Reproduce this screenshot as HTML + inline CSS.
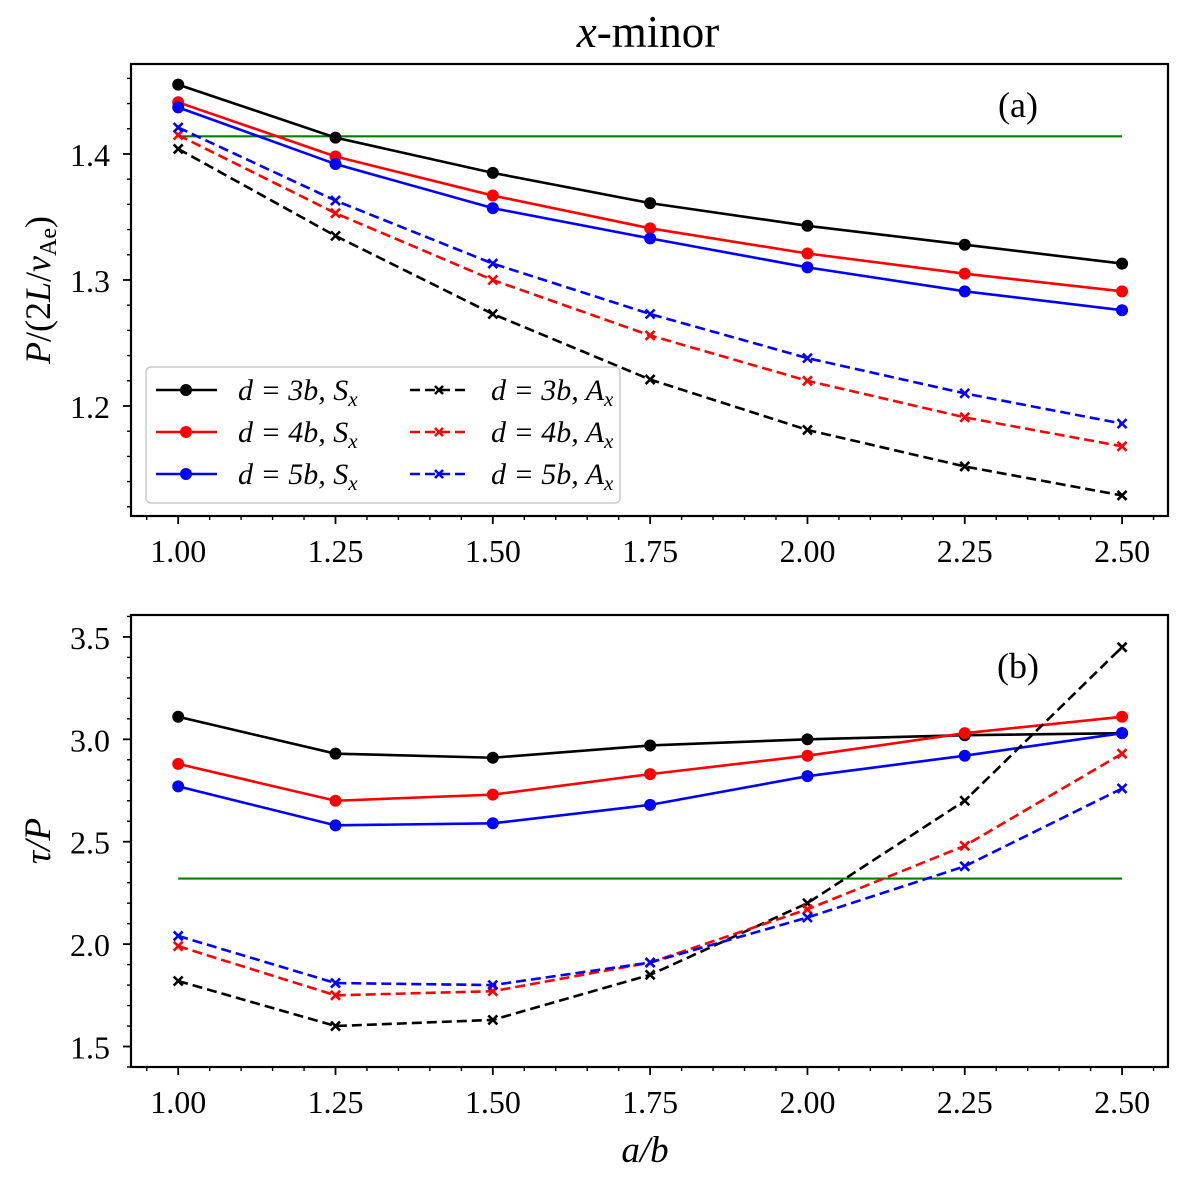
<!DOCTYPE html>
<html><head><meta charset="utf-8"><style>
html,body{margin:0;padding:0;background:#fff}
svg text{font-family:"Liberation Serif",serif;fill:#000}
</style></head><body>
<svg id="fig" width="1200" height="1175" xmlns="http://www.w3.org/2000/svg"></svg>
<script>
const categories = [1.00, 1.25, 1.50, 1.75, 2.00, 2.25, 2.50];
const xTickLabels = ["1.00","1.25","1.50","1.75","2.00","2.25","2.50"];
// panel (a)
const aS3 = [1.455, 1.413, 1.385, 1.361, 1.343, 1.328, 1.313];
const aS4 = [1.441, 1.398, 1.367, 1.341, 1.321, 1.305, 1.291];
const aS5 = [1.437, 1.392, 1.357, 1.333, 1.310, 1.291, 1.276];
const aA3 = [1.404, 1.335, 1.273, 1.221, 1.181, 1.152, 1.129];
const aA4 = [1.415, 1.353, 1.300, 1.256, 1.220, 1.191, 1.168];
const aA5 = [1.421, 1.363, 1.313, 1.273, 1.238, 1.210, 1.186];
const aRef = 1.414;
const aYTicks = [1.2, 1.3, 1.4];
const aYTickLabels = ["1.2","1.3","1.4"];
// panel (b)
const bS3 = [3.11, 2.93, 2.91, 2.97, 3.00, 3.02, 3.03];
const bS4 = [2.88, 2.70, 2.73, 2.83, 2.92, 3.03, 3.11];
const bS5 = [2.77, 2.58, 2.59, 2.68, 2.82, 2.92, 3.03];
const bA3 = [1.82, 1.60, 1.63, 1.85, 2.20, 2.70, 3.45];
const bA4 = [1.99, 1.75, 1.77, 1.91, 2.17, 2.48, 2.93];
const bA5 = [2.04, 1.81, 1.80, 1.91, 2.13, 2.38, 2.76];
const bRef = 2.32;
const bYTicks = [1.5, 2.0, 2.5, 3.0, 3.5];
const bYTickLabels = ["1.5","2.0","2.5","3.0","3.5"];

const NS = "http://www.w3.org/2000/svg";
const svg = document.getElementById('fig');
function mk(tag, attrs, parent){const e=document.createElementNS(NS,tag);for(const k in attrs)e.setAttribute(k,attrs[k]);(parent||svg).appendChild(e);return e;}

const X0=131, X1=1168, XMIN=0.925, XMAX=2.573;
function xs(v){return X0+(v-XMIN)/(XMAX-XMIN)*(X1-X0);}

function panel(name, top, bottom, ymin, ymax, yTicks, yLabels, minorStep, series, ref, tag, tagX, tagY){
  const g = mk('g',{});
  
  
  const ys = v => bottom-(v-ymin)/(ymax-ymin)*(bottom-top);
  for(let v=0.95; v<=2.56; v+=0.05){
    const major = Math.abs((v-1)/0.25 - Math.round((v-1)/0.25))<1e-6;
    const t = mk('line',{x1:xs(v),x2:xs(v),y1:bottom,y2:bottom+(major?8:4),stroke:'#000','stroke-width':major?1.8:1.4},g);
    
    
  }
  categories.forEach((c,i)=>{
    const t = mk('text',{x:xs(c),y:bottom+46,'text-anchor':'middle','font-size':32},g);
    t.textContent = xTickLabels[i];
    
    
  });
  const start = Math.ceil(ymin/minorStep)*minorStep;
  for(let v=start; v<=ymax; v+=minorStep){
    const maj = yTicks.some(t=>Math.abs(t-v)<1e-6);
    const t = mk('line',{x1:X0,x2:X0-(maj?8:4),y1:ys(v),y2:ys(v),stroke:'#000','stroke-width':maj?1.8:1.4},g);
    
    
  }
  yTicks.forEach((v,i)=>{
    const t = mk('text',{x:X0-21,y:ys(v)+12,'text-anchor':'end','font-size':32},g);
    t.textContent = yLabels[i];
    
    
  });
  const r = mk('line',{x1:xs(1.0),x2:xs(2.5),y1:ys(ref),y2:ys(ref),stroke:'#008000','stroke-width':2.2},g);
  
  
  series.forEach(s=>{
    const pts = s.vals.map((v,i)=>xs(categories[i])+','+ys(v)).join(' ');
    const pl = mk('polyline',{points:pts,fill:'none',stroke:s.color,'stroke-width':2.6,'stroke-dasharray':s.dash?'10,5':'none'},g);
    
    
    s.vals.forEach((v,i)=>{
      const cx=xs(categories[i]), cy=ys(v);
      let m;
      if(s.dash){
        m = mk('path',{d:`M${cx-4.5},${cy-4.5}L${cx+4.5},${cy+4.5}M${cx-4.5},${cy+4.5}L${cx+4.5},${cy-4.5}`,stroke:s.color,'stroke-width':2.6},g);
      } else {
        m = mk('circle',{cx:cx,cy:cy,r:6,fill:s.color},g);
      }
      
      
    });
  });
  const f = mk('rect',{x:X0,y:top,width:X1-X0,height:bottom-top,fill:'none',stroke:'#000','stroke-width':2.2},g);
  
  
  const pt = mk('text',{x:tagX,y:tagY,'text-anchor':'middle','font-size':36},g);
  pt.textContent = tag;
  
  
  return g;
}

panel('panel-a', 64, 516, 1.1127, 1.4714, aYTicks, aYTickLabels, 0.02, [
  {name:'d3-sx',vals:aS3,color:'#000',dash:false},
  {name:'d4-sx',vals:aS4,color:'#ff0000',dash:false},
  {name:'d5-sx',vals:aS5,color:'#0000ff',dash:false},
  {name:'d3-ax',vals:aA3,color:'#000',dash:true},
  {name:'d4-ax',vals:aA4,color:'#ff0000',dash:true},
  {name:'d5-ax',vals:aA5,color:'#0000ff',dash:true}
], aRef, '(a)', 1018, 117);

panel('panel-b', 615, 1067, 1.40, 3.607, bYTicks, bYTickLabels, 0.1, [
  {name:'d3-sx',vals:bS3,color:'#000',dash:false},
  {name:'d4-sx',vals:bS4,color:'#ff0000',dash:false},
  {name:'d5-sx',vals:bS5,color:'#0000ff',dash:false},
  {name:'d3-ax',vals:bA3,color:'#000',dash:true},
  {name:'d4-ax',vals:bA4,color:'#ff0000',dash:true},
  {name:'d5-ax',vals:bA5,color:'#0000ff',dash:true}
], bRef, '(b)', 1018, 678);
</script>
<svg style="position:absolute;left:0;top:0" width="1200" height="1175" xmlns="http://www.w3.org/2000/svg">
  <text x="648" y="47" text-anchor="middle" font-size="45" font-family="Liberation Serif, serif"><tspan font-style="italic">x</tspan>-minor</text>
  <text transform="translate(50,290) rotate(-90)" text-anchor="middle" font-size="36" font-family="Liberation Serif, serif"><tspan font-style="italic">P</tspan>/(2<tspan font-style="italic">L</tspan>/<tspan font-style="italic">v</tspan><tspan font-size="24" dy="6">Ae</tspan><tspan dy="-6">)</tspan></text>
  <text transform="translate(50,841) rotate(-90)" text-anchor="middle" font-size="37" font-family="Liberation Serif, serif" font-style="italic">τ/P</text>
  <text x="645" y="1162" text-anchor="middle" font-size="37" font-family="Liberation Serif, serif" font-style="italic">a/b</text>
  <g font-family="Liberation Serif, serif" font-size="30">
    <rect x="146" y="367" width="474" height="136" rx="5" fill="#fff" fill-opacity="0.85" stroke="#ccc" stroke-width="1.5"/>
    <g><line x1="156" x2="217" y1="390" y2="390" stroke="#000" stroke-width="2.6"/><circle cx="186" cy="390" r="6" fill="#000"/><text x="238" y="400" font-style="italic">d = 3b, S<tspan font-size="21" dy="6">x</tspan></text></g>
    <g><line x1="156" x2="217" y1="432" y2="432" stroke="#f00" stroke-width="2.6"/><circle cx="186" cy="432" r="6" fill="#f00"/><text x="238" y="442" font-style="italic">d = 4b, S<tspan font-size="21" dy="6">x</tspan></text></g>
    <g><line x1="156" x2="217" y1="474" y2="474" stroke="#00f" stroke-width="2.6"/><circle cx="186" cy="474" r="6" fill="#00f"/><text x="238" y="484" font-style="italic">d = 5b, S<tspan font-size="21" dy="6">x</tspan></text></g>
    <g><line x1="410" x2="466" y1="390" y2="390" stroke="#000" stroke-width="2.6" stroke-dasharray="10,5"/><path d="M435,386L443,394M435,394L443,386" stroke="#000" stroke-width="2.6"/><text x="491" y="400" font-style="italic">d = 3b, A<tspan font-size="21" dy="6">x</tspan></text></g>
    <g><line x1="410" x2="466" y1="432" y2="432" stroke="#f00" stroke-width="2.6" stroke-dasharray="10,5"/><path d="M435,428L443,436M435,436L443,428" stroke="#f00" stroke-width="2.6"/><text x="491" y="442" font-style="italic">d = 4b, A<tspan font-size="21" dy="6">x</tspan></text></g>
    <g><line x1="410" x2="466" y1="474" y2="474" stroke="#00f" stroke-width="2.6" stroke-dasharray="10,5"/><path d="M435,470L443,478M435,478L443,470" stroke="#00f" stroke-width="2.6"/><text x="491" y="484" font-style="italic">d = 5b, A<tspan font-size="21" dy="6">x</tspan></text></g>
  </g>
</svg>
</body></html>
